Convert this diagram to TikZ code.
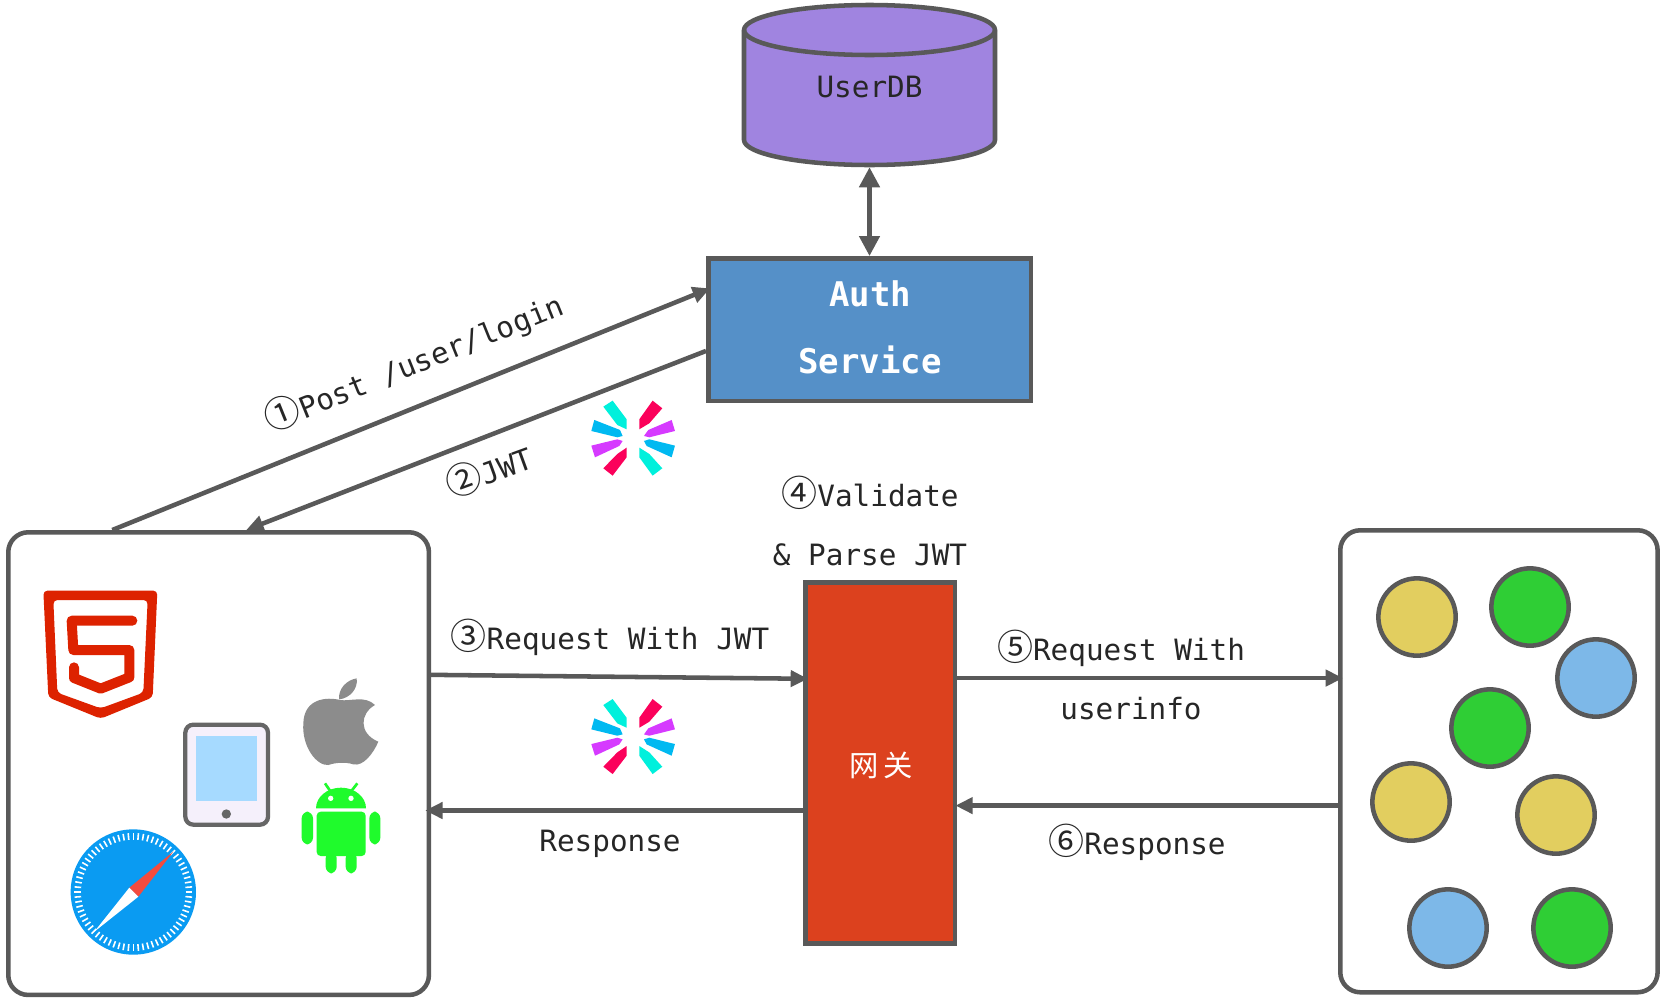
\documentclass[tikz,border=0pt]{standalone}
\usepackage{fontspec}
\setmainfont{DejaVu Sans Mono}
\newfontfamily\cjk{Noto Sans CJK SC}
\usetikzlibrary{arrows.meta,calc}
\definecolor{linegrey}{HTML}{595959}
\definecolor{dbpurple}{HTML}{A084E0}
\definecolor{authblue}{HTML}{5590C8}
\definecolor{gatered}{HTML}{DC411E}
\definecolor{dotyellow}{HTML}{E2CE5F}
\definecolor{dotgreen}{HTML}{2FCE35}
\definecolor{dotblue}{HTML}{7DB8E8}
\definecolor{htmlred}{HTML}{DD2200}
\definecolor{droid}{HTML}{1FFB2C}
\definecolor{safari}{HTML}{0A9BF2}
\definecolor{jwtcyan}{HTML}{00F0DC}
\definecolor{jwtblue}{HTML}{00B9F1}
\definecolor{jwtpurple}{HTML}{D63AFF}
\definecolor{jwtred}{HTML}{FB015B}
\definecolor{tabbody}{HTML}{F5F0FB}
\definecolor{tabscreen}{HTML}{A6DAFF}
\definecolor{tabline}{HTML}{666666}
\definecolor{applegrey}{HTML}{8C8C8C}
\definecolor{needle}{HTML}{F44B3E}
\newcommand{\cn}[1]{{\cjk\fontsize{27}{27}\selectfont #1}}
\tikzset{
  lbl/.style={font=\fontsize{22}{26}\selectfont,text=black!85,inner sep=0pt},
  conn/.style={draw=linegrey,line width=3.4pt,-{Triangle[length=13pt,width=12pt]}},
  boxnode/.style={draw=linegrey,line width=3.4pt,inner sep=0pt,anchor=north west},
  dot/.style={circle,draw=linegrey,line width=3.4pt,minimum size=58pt,inner sep=0pt},
  jwtlogo/.pic={
    \begin{scope}[x=.25pt,y=-.25pt,shift={(-220,-175)}]
      \fill[jwtcyan] (130,80)--(158,62)--(200,118)--(200,148)--(172,135)--cycle;
      \fill[jwtblue] (103,120)--(180,150)--(188,168)--(172,172)--(94,153)--cycle;
      \fill[jwtpurple] (94,197)--(172,178)--(188,183)--(178,198)--(105,232)--cycle;
      \fill[jwtred] (130,265)--(172,222)--(200,203)--(200,232)--(158,287)--cycle;
      \fill[jwtcyan] (238,203)--(268,222)--(307,265)--(278,287)--(238,232)--cycle;
      \fill[jwtblue] (252,183)--(268,178)--(345,197)--(335,232)--(260,198)--cycle;
      \fill[jwtpurple] (252,168)--(265,150)--(335,120)--(345,153)--(268,172)--cycle;
      \fill[jwtred] (278,62)--(307,85)--(268,130)--(238,148)--(238,118)--cycle;
    \end{scope}
  }
}
\begin{document}
\begin{tikzpicture}[x=.75pt,y=-.75pt]
\useasboundingbox (0,0) rectangle (1665,1000);
\fill[white] (0,0) rectangle (1665,1000);

% cylinder
\path[fill=dbpurple,draw=linegrey,line width=3.4pt,line join=round]
  (744,30) -- (744,140) arc[start angle=180,end angle=0,x radius=125.5,y radius=25] -- (995,30)
  arc[start angle=0,end angle=-180,x radius=125.5,y radius=25] -- cycle;
\draw[linegrey,line width=3.4pt] (744,30) arc[start angle=180,end angle=0,x radius=125.5,y radius=25];
\node[minimum width=188pt,minimum height=120pt,inner sep=0pt,lbl] (userdb) at (869.5,87) {UserDB};

% main boxes
\node[boxnode,fill=authblue,minimum width=242pt,minimum height=107pt,align=center] (auth) at (706,256) {};
\node[lbl,text=white,font=\fontsize{25.5}{30}\selectfont\bfseries] (authA) at (870,294) {Auth};
\node[lbl,text=white,font=\fontsize{25.5}{30}\selectfont\bfseries] (authB) at (870,360) {Service};
\node[boxnode,fill=gatered,minimum width=112.4pt,minimum height=271pt] (gate) at (803,580) {};
\node[lbl,text=white] (gatetxt) at (881,765) {\cn{\fontsize{22}{25}\selectfont 网\,关}};
\node[boxnode,rounded corners=15pt,fill=white,minimum width=315.5pt,minimum height=347pt] (client) at (6,530) {};
\node[boxnode,rounded corners=15pt,fill=white,minimum width=238pt,minimum height=346.5pt] (svc) at (1338,528) {};

% connectors
\draw[draw=linegrey,line width=3.4pt,{Triangle[length=15pt,width=15pt]}-{Triangle[length=15pt,width=15pt]}]
  (userdb.south) coordinate (dbbottom) -- (dbbottom |- auth.north);
\coordinate (c1s) at ($(client.north west)!.25!(client.north east)$);
\coordinate (a1e) at ($(auth.north west)!.22!(auth.south west)+(4,0)$);
\draw[conn] (c1s) -- (a1e);
\coordinate (a2s) at ($(auth.north west)!.645!(auth.south west)$);
\coordinate (c2e) at ($(client.north west)!.565!(client.north east)$);
\draw[conn] (a2s) -- (c2e);
\coordinate (c3s) at ($(client.north east)!.31!(client.south east)$);
\coordinate (g3e) at ($(gate.north west)!.27!(gate.south west)+(5,0)$);
\draw[conn] (c3s) -- (g3e);
\coordinate (g4s) at ($(gate.north west)!.63!(gate.south west)$);
\draw[conn] (g4s) -- ($(g4s -| client.east)+(-6,0)$);
\coordinate (g5s) at ($(gate.north east)!.268!(gate.south east)$);
\draw[conn] (g5s) -- ($(g5s -| svc.west)+(5,0)$);
\coordinate (s6s) at ($(svc.north west)!.595!(svc.south west)$);
\draw[conn] (s6s) -- ($(s6s -| gate.east)+(-2,0)$);

% labels
\node[lbl,rotate=22] (l1) at (414,362) {\cn{①}Post /user/login};
\node[lbl,rotate=20] (l2) at (489,470) {\cn{②}JWT};
\node[lbl] (l4a) at (870,493) {\cn{④}Validate};
\node[lbl] (l4b) at (870,555) {\& Parse JWT};
\node[lbl] (l3) at (610,637) {\cn{③}Request With JWT};
\node[lbl] (lr) at (610,844) {Response};
\node[lbl] (l5a) at (1121,648) {\cn{⑤}Request With};
\node[lbl] (l5b) at (1131,709) {userinfo};
\node[lbl] (l6) at (1137,842) {\cn{⑥}Response};

% jwt logos
\pic at (633.3,438.3) {jwtlogo};
\pic at (633.3,736.7) {jwtlogo};

% service dots
\node[dot,fill=dotyellow] (d1) at (1417,617) {};
\node[dot,fill=dotgreen] (d2) at (1530,607) {};
\node[dot,fill=dotblue] (d3) at (1596,678) {};
\node[dot,fill=dotgreen] (d4) at (1490,728) {};
\node[dot,fill=dotyellow] (d5) at (1411,802) {};
\node[dot,fill=dotyellow] (d6) at (1556,815) {};
\node[dot,fill=dotblue] (d7) at (1448,928) {};
\node[dot,fill=dotgreen] (d8) at (1572,928) {};

% platform icons, drawn in 3x zoom coordinates
\begin{scope}[x=.25pt,y=-.25pt,shift={(0,1560)}]
  % html5
  \fill[htmlred,rounded corners=3pt,even odd rule]
    (130,212)--(472,212)--(458,532)--(302,596)--(145,532)--cycle
    (160,240)--(443,240)--(430,518)--(302,565)--(172,518)--cycle;
  \draw[htmlred,line width=7.5pt,line cap=round,line join=round]
    (397,302)--(215,302)--(220,390)--(388,390)--(388,472)--(302,506)--(222,474)--(222,442);
  % tablet
  \draw[draw=tabline,fill=tabbody,line width=3.2pt,rounded corners=6pt] (556,614) rectangle (804,914);
  \fill[tabscreen] (588,648) rectangle (770,843);
  \fill[tabline] (679,882) circle[radius=14];
  % apple
  \fill[applegrey]
    (1020,540) .. controls (980,530) and (912,535) .. (910,610)
    .. controls (905,680) and (950,738) .. (985,735)
    .. controls (1005,728) and (1035,725) .. (1060,733)
    .. controls (1090,740) and (1120,700) .. (1135,665)
    .. controls (1075,640) and (1080,580) .. (1125,555)
    .. controls (1095,525) and (1050,545) .. (1020,540) -- cycle;
  \fill[applegrey] (1017,538) .. controls (1015,505) and (1040,480) .. (1070,475)
    .. controls (1075,505) and (1050,535) .. (1017,538) -- cycle;
  % android
  \fill[droid] (948,865) arc[start angle=180,end angle=0,x radius=75,y radius=-62] -- cycle;
  \fill[white] (992,835) circle[radius=8] (1053,835) circle[radius=8];
  \draw[droid,line width=2pt] (975,790)--(990,812) (1072,790)--(1055,812);
  \fill[droid,rounded corners=3pt] (950,875) rectangle (1097,1008);
  \fill[droid,rounded corners=5pt] (905,875) rectangle (939,973);
  \fill[droid,rounded corners=5pt] (1108,875) rectangle (1141,973);
  \fill[droid,rounded corners=5pt] (977,995) rectangle (1010,1060);
  \fill[droid,rounded corners=5pt] (1037,995) rectangle (1070,1060);
  % safari
  \fill[safari] (400,1116) circle[radius=188];
  \foreach \a in {0,5,...,355}
    \draw[white,line width=1.2pt] ($(400,1116)+(\a:157)$) -- ($(400,1116)+(\a:177)$);
  \fill[needle] (520,995)--(388,1103)--(415,1130)--cycle;
  \fill[white] (283,1235)--(388,1103)--(415,1130)--cycle;
\end{scope}
\end{tikzpicture}
\end{document}
